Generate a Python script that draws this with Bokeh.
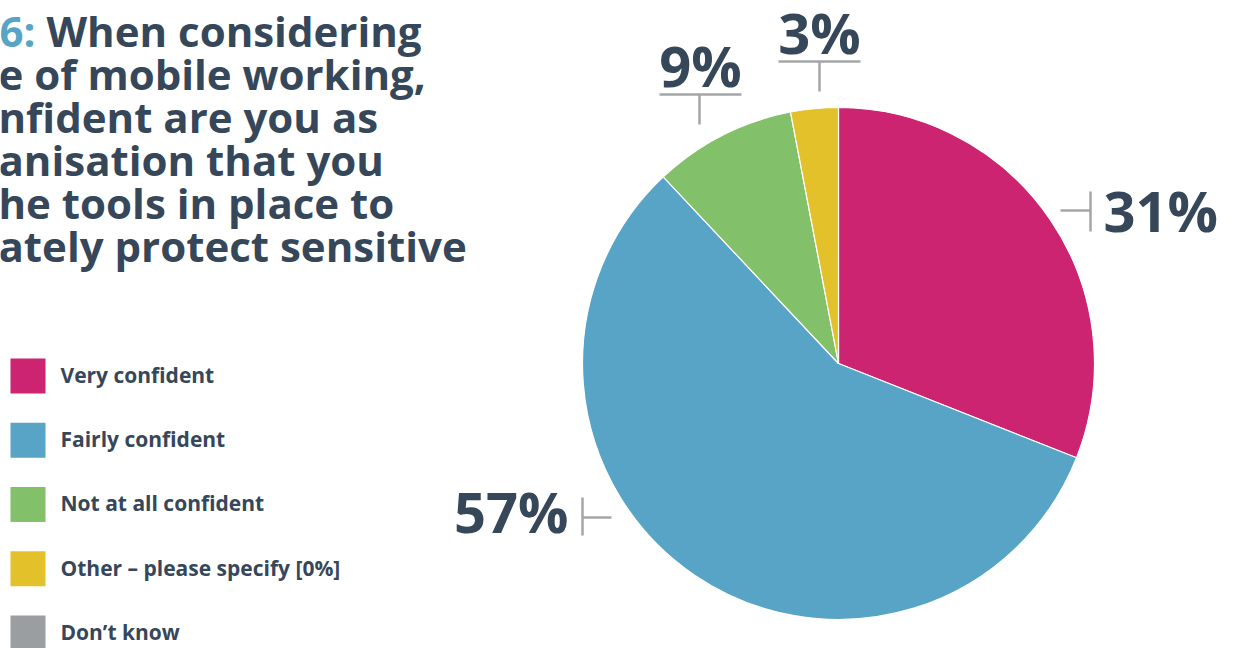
import math
from bokeh.plotting import figure
from bokeh.models import Range1d, ColumnDataSource
from bokeh.core.properties import value
from bokeh.embed import file_html
from bokeh.resources import INLINE

# ---- data ----
slice_labels = ["Very confident", "Fairly confident", "Not at all confident", "Other"]
slice_values = [31, 57, 9, 3]
slice_colors = ["#CC2471", "#58A4C6", "#82C06A", "#E2C12B"]

legend_labels = ["Very confident", "Fairly confident", "Not at all confident",
                 "Other \u2013 please specify [0%]", "Don\u2019t know"]
legend_colors = ["#CC2471", "#58A4C6", "#82C06A", "#E2C12B", "#9A9EA1"]

title_lines = ["e of mobile working,", "nfident are you as", "anisation that you",
               "he tools in place to", "ately protect sensitive"]

W, H = 1235, 648
DARK = "#36475A"
GREY = "#A3A6A9"
FONT = value("Open Sans")
K = 0.41  # baseline compensation (fraction of font size)

def Y(py):
    return H - py

p = figure(width=W, height=H, x_range=Range1d(0, W), y_range=Range1d(0, H),
           output_backend="svg", toolbar_location=None,
           x_axis_location=None, y_axis_location=None, min_border=0)
p.grid.visible = False
p.outline_line_color = None
p.background_fill_color = "white"

def txt(x, base, s, size, color=DARK, align="left"):
    p.text(x=[x], y=[Y(base - K * size)], text=[s], text_font=FONT, text_font_style="bold",
           text_font_size=f"{size}px", text_color=color, text_baseline="alphabetic",
           text_align=align)

# ---- pie ----
cx, cy, r = 838, 363, 256
total = sum(slice_values)
starts, ends = [], []
cum = 0
for v in slice_values:
    starts.append(math.pi / 2 - 2 * math.pi * cum / total)
    cum += v
    ends.append(math.pi / 2 - 2 * math.pi * cum / total)
src = ColumnDataSource(dict(x=[cx] * len(slice_values), y=[Y(cy)] * len(slice_values),
                            start=starts, end=ends, color=slice_colors))
p.wedge(x="x", y="y", radius=r, start_angle="start", end_angle="end",
        direction="clock", fill_color="color", line_color="white", line_width=1.2,
        source=src)

# ---- value labels with leader lines ----
lbl = [f"{v}%" for v in slice_values]
txt(1103, 232, lbl[0], 56)
p.line(x=[1060, 1090], y=[Y(210), Y(210)], line_color=GREY, line_width=2.5)
p.line(x=[1090, 1090], y=[Y(191), Y(231)], line_color=GREY, line_width=2.5)

txt(568, 533, lbl[1], 56, align="right")
p.line(x=[582, 611], y=[Y(517), Y(517)], line_color=GREY, line_width=2.5)
p.line(x=[582, 582], y=[Y(497), Y(535)], line_color=GREY, line_width=2.5)

txt(700, 87, lbl[2], 56, align="center")
p.line(x=[659, 741], y=[Y(94), Y(94)], line_color=GREY, line_width=2.5)
p.line(x=[699, 699], y=[Y(94), Y(124)], line_color=GREY, line_width=2.5)

txt(819, 54, lbl[3], 56, align="center")
p.line(x=[778, 860], y=[Y(61), Y(61)], line_color=GREY, line_width=2.5)
p.line(x=[819, 819], y=[Y(61), Y(91)], line_color=GREY, line_width=2.5)

# ---- title (cropped on the left as in the reference) ----
TS = 42
txt(-1, 47, "6:", TS, color="#58A4C6")
txt(46, 47, "When considering", TS)
for i, t in enumerate(title_lines):
    txt(-2, 90 + 43 * i, t, TS)

# ---- legend ----
for i, (lab, col) in enumerate(zip(legend_labels, legend_colors)):
    top = 358 + 64.25 * i
    p.quad(left=[10], right=[45], top=[Y(top)], bottom=[Y(top + 35)],
           fill_color=col, line_color=None)
    txt(60, top + 25, lab, 21)

open("out.html", "w").write(file_html(p, INLINE))
